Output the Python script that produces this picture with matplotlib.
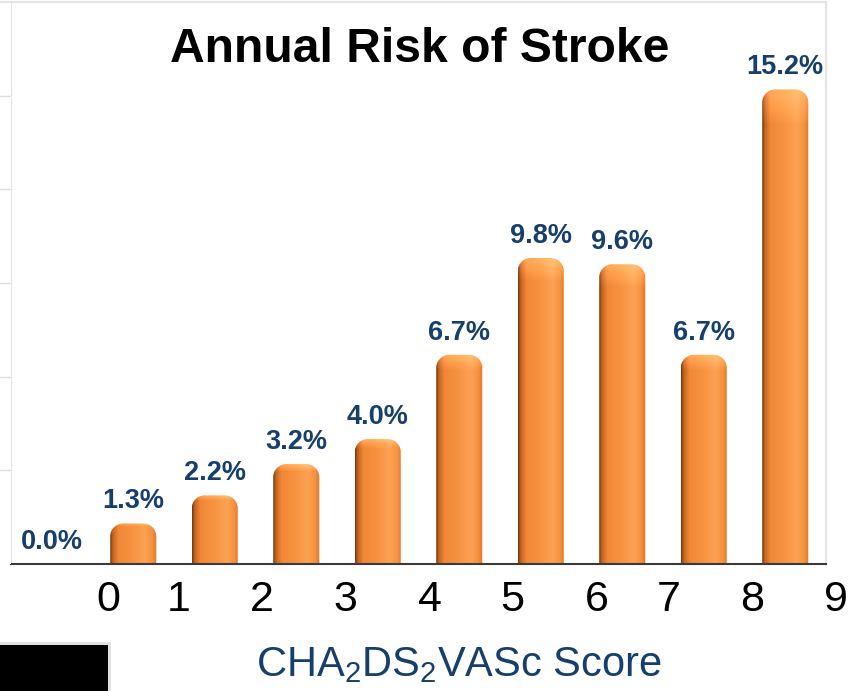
import numpy as np
import matplotlib.pyplot as plt
from matplotlib.path import Path
from matplotlib.patches import PathPatch, Rectangle

plt.rcParams['font.family'] = ['Liberation Sans', 'DejaVu Sans']
plt.rcParams['mathtext.fontset'] = 'custom'
plt.rcParams['mathtext.rm'] = 'Liberation Sans'
plt.rcParams['mathtext.it'] = 'Liberation Sans'

# stroke risk per score
scores = np.arange(10)
risk = [0.0, 1.3, 2.2, 3.2, 4.0, 6.7, 9.8, 9.6, 6.7, 15.2]
score_labels = ['0', '1', '2', '3', '4', '5', '6', '7', '8', '9']
# the score numbers sit in their own text boxes, slightly off the bars
score_label_x = [0.69, 1.56, 2.58, 3.60, 4.64, 5.65, 6.69, 7.57, 8.59, 9.62]

navy = '#173f6c'
W, H = 856, 691
fig = plt.figure(figsize=(W / 100, H / 100), dpi=100)

ax_l, ax_r, ax_b, ax_t = 11, 826, 564, 2
rect = [ax_l / W, 1 - ax_b / H, (ax_r - ax_l) / W, (ax_b - ax_t) / H]
ax = fig.add_axes(rect)
ax.set_xlim(-0.5, 9.5)
ax.set_ylim(0, 18)

# little strip of gridlines peeking out on the left
stub = fig.add_axes([0, rect[1], ax_l / W, rect[3]])
stub.set_ylim(0, 18)
stub.set_yticks([3, 6, 9, 12, 15])
stub.grid(axis='y', color='#dcdcdc', lw=1)
stub.tick_params(left=False, bottom=False, labelleft=False, labelbottom=False)
stub.set_xticks([])
for s in stub.spines.values():
    s.set_visible(False)
stub.spines['top'].set_visible(True)
stub.spines['top'].set_color('#e4e4e4')
stub.spines['top'].set_linewidth(1.6)

bars = ax.bar(scores, risk, width=0.565, color='none', edgecolor='none')

# horizontal shading profile for the cylinder look
stops = [0.0, 0.06, 0.18, 0.5, 0.74, 0.9, 1.0]
cols = ['#6e360e', '#c46420', '#f08836', '#f79441', '#fba255', '#f7923e', '#dc772b']
rgb = np.array([[int(c[i:i + 2], 16) / 255 for i in (1, 3, 5)] for c in cols])
t = np.linspace(0, 1, 200)
row = np.stack([np.interp(t, stops, rgb[:, k]) for k in range(3)], axis=1)

px_x = (ax_r - ax_l) / 10.0
px_y = (ax_b - ax_t) / 18.0
rx, ry = 13 / px_x, 13 / px_y
k = 0.5523

for b in bars:
    x0, w, h = b.get_x(), b.get_width(), b.get_height()
    if h <= 0:
        continue
    x1 = x0 + w
    verts = [(x0, 0), (x0, h - ry),
             (x0, h - ry + k * ry), (x0 + rx - k * rx, h), (x0 + rx, h),
             (x1 - rx, h),
             (x1 - rx + k * rx, h), (x1, h - ry + k * ry), (x1, h - ry),
             (x1, 0), (x0, 0)]
    codes = [Path.MOVETO, Path.LINETO,
             Path.CURVE4, Path.CURVE4, Path.CURVE4,
             Path.LINETO,
             Path.CURVE4, Path.CURVE4, Path.CURVE4,
             Path.LINETO, Path.CLOSEPOLY]
    patch = PathPatch(Path(verts, codes), facecolor='none', edgecolor='none')
    ax.add_patch(patch)
    nrows = 60
    img = np.repeat(row[None, :, :], nrows, axis=0)
    # lighter rim across the rounded top
    cap = np.clip(1 - np.arange(nrows) / 4.0, 0, 1)[:, None, None] * 0.12
    img = np.clip(img + cap, 0, 1)
    im = ax.imshow(img, extent=(x0, x1, 0, h), origin='upper', aspect='auto',
                   interpolation='bilinear', zorder=2)
    im.set_clip_path(patch)

for b, v in zip(bars, risk):
    ax.annotate(f'{v:.1f}%', (b.get_x() + b.get_width() / 2, v),
                xytext=(0, 11), textcoords='offset points', ha='center',
                va='baseline', fontsize=19.5, fontweight='bold', color=navy)

ax.set_xlim(-0.5, 9.5)
ax.set_ylim(0, 18)
ax.set_xticks([])
ax.set_yticks([])
for side in ('left', 'top', 'right'):
    ax.spines[side].set_color('#e4e4e4')
    ax.spines[side].set_linewidth(1.6)
ax.spines['bottom'].set_color('#3a3a3a')
ax.spines['bottom'].set_linewidth(1.5)
ax.spines['bottom'].set_zorder(3)

tick_y = -36 / (ax_b - ax_t)
for xp, lab in zip(score_label_x, score_labels):
    ax.text(xp, tick_y, lab, transform=ax.get_xaxis_transform(), ha='center',
            va='center', fontsize=31, color='black', clip_on=False)

fig.text(420 / W, 1 - 62 / H, 'Annual Risk of Stroke', ha='center',
         va='baseline', fontsize=34.6, fontweight='bold', color='black')
fig.text(459 / W, 1 - 676 / H, r'CHA$_2$DS$_2$VASc Score', ha='center',
         va='baseline', fontsize=30, color=navy)

# black box in the lower left corner
fig.patches.append(Rectangle((0, 0), 111 / W, 49 / H, transform=fig.transFigure,
                             facecolor='#e2e2e2', edgecolor='none'))
fig.patches.append(Rectangle((0, 0), 108 / W, 46 / H, transform=fig.transFigure,
                             facecolor='black', edgecolor='none'))

fig.savefig('out.png', dpi=100)
